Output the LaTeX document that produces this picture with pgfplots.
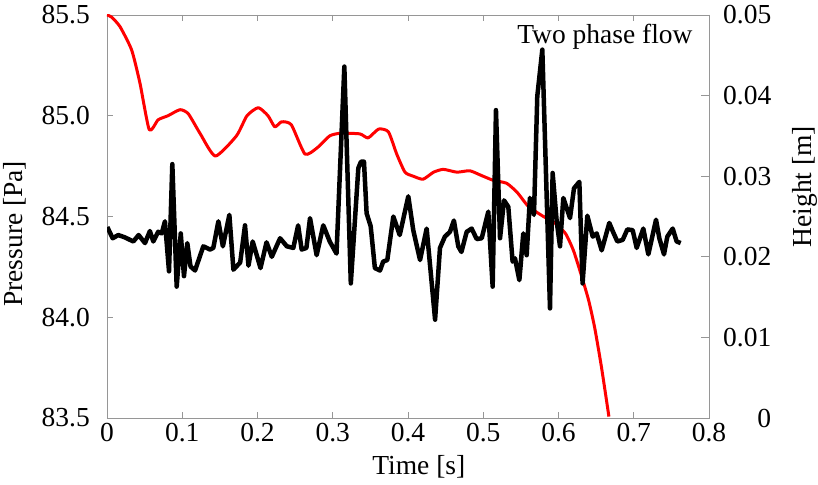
\documentclass[border=0pt]{standalone}
\usepackage{pgfplots}
\pgfplotsset{compat=1.18}
\usepackage{fontspec}
\setmainfont{Liberation Serif}
\newcommand\fs{\fontsize{27.5}{31}\selectfont}
\definecolor{axgray}{RGB}{150,150,150}
\begin{document}
\begin{tikzpicture}
\begin{axis}[
  scale only axis, width=602pt, height=403pt,
  at={(0,0)}, anchor=south west,
  xmin=0, xmax=0.8, ymin=83.5, ymax=85.5,
  xtick={0,0.1,...,0.8}, ytick={83.5,84,84.5,85,85.5},
  xticklabels={0,0.1,0.2,0.3,0.4,0.5,0.6,0.7,0.8},
  yticklabels={83.5,84.0,84.5,85.0,85.5},
  scaled x ticks=false, scaled y ticks=false,
  xtick pos=both, ytick pos=left, tick align=inside,
  major tick length=6pt,
  axis line style={axgray, line width=0.8pt},
  every tick/.style={axgray, line width=0.8pt},
  every tick label/.append style={font=\fs, inner sep=0pt, text=black},
  yticklabel style={anchor=east, xshift=-17pt},
  xticklabel style={anchor=north, yshift=-5pt},
  xlabel={Time [s]},
  ylabel={Pressure [Pa]},
  xlabel style={font=\fs, inner sep=0pt, at={(axis description cs:0.518,0)}, anchor=base, yshift=-56pt},
  ylabel style={font=\fs, inner sep=0pt, at={(axis description cs:-0.1728,0.457)}, anchor=north},
  clip=true,
]
\addplot[red, line width=3pt, line join=round, smooth, tension=0.35] coordinates {
(0,85.5) (0.006,85.49) (0.0173,85.442) (0.0328,85.326) (0.0439,85.16) (0.0562,84.93)
(0.068,84.98) (0.081,85.0) (0.097,85.03) (0.108,85.01) (0.124,84.91) (0.144,84.80)
(0.172,84.90) (0.186,85.0) (0.201,85.04) (0.214,85.0) (0.223,84.945) (0.232,84.97)
(0.245,84.955) (0.263,84.81) (0.279,84.84) (0.296,84.90) (0.310,84.913) (0.336,84.91)
(0.347,84.89) (0.361,84.934) (0.374,84.92) (0.385,84.81) (0.396,84.72) (0.407,84.70)
(0.42,84.685) (0.434,84.72) (0.447,84.734) (0.465,84.72) (0.482,84.727) (0.496,84.706)
(0.513,84.68) (0.531,84.665) (0.545,84.62) (0.56,84.55) (0.58,84.50) (0.593,84.474)
(0.609,84.417) (0.62,84.33) (0.631,84.20) (0.64,84.085) (0.648,83.95) (0.657,83.755)
(0.667,83.507)
};
\node[font=\fs, inner sep=0pt, anchor=base east] at (rel axis cs:0.973,0.9305) {Two phase flow};
\end{axis}
\begin{axis}[
  scale only axis, width=602pt, height=403pt,
  at={(0,0)}, anchor=south west,
  xmin=0, xmax=0.8, ymin=0, ymax=0.05,
  axis x line=none, axis y line*=right,
  ytick={0,0.01,0.02,0.03,0.04,0.05},
  yticklabels={0,0.01,0.02,0.03,0.04,0.05},
  scaled y ticks=false,
  tick align=inside, major tick length=8pt,
  axis line style={axgray, line width=0.8pt},
  every tick/.style={axgray, line width=0.8pt},
  every tick label/.append style={font=\fs, inner sep=0pt, text=black},
  yticklabel style={anchor=west, xshift=14pt, text width=48pt, align=right},
  ylabel={Height [m]},
  ylabel style={font=\fs, inner sep=0pt, at={(axis description cs:1.1385,0.574)}, anchor=north},
  clip=true,
]
\addplot[black, line width=4.5pt, line join=round] coordinates {
(0.0004,0.0237) (0.0075,0.0223) (0.015,0.0227) (0.024,0.0224) (0.035,0.0219) (0.042,0.0227)
(0.0505,0.0217) (0.057,0.0232) (0.0615,0.0219) (0.068,0.0231) (0.0727,0.0229) (0.077,0.0244)
(0.0824,0.0182) (0.0868,0.0315) (0.0926,0.0163) (0.098,0.0229) (0.1023,0.0176) (0.1067,0.0217)
(0.111,0.0188) (0.117,0.0183) (0.128,0.0213) (0.137,0.0209) (0.1413,0.0211) (0.148,0.0244)
(0.154,0.0213) (0.1626,0.0252) (0.168,0.0184) (0.177,0.0193) (0.1834,0.0239) (0.188,0.0189)
(0.1936,0.0219) (0.199,0.0202) (0.204,0.0186) (0.212,0.0218) (0.219,0.0200) (0.23,0.0223)
(0.239,0.0213) (0.2476,0.0211) (0.254,0.0239) (0.2587,0.0209) (0.265,0.0211) (0.2698,0.0248)
(0.2786,0.0202) (0.2874,0.0239) (0.296,0.0219) (0.305,0.0204) (0.3154,0.0436) (0.324,0.0167)
(0.334,0.0310) (0.3375,0.0318) (0.3415,0.0318) (0.345,0.0254) (0.3504,0.0238) (0.356,0.0186)
(0.3628,0.0183) (0.367,0.0194) (0.3725,0.0196) (0.3805,0.0250) (0.389,0.0227) (0.4004,0.0275)
(0.407,0.0233) (0.416,0.0196) (0.4248,0.0235) (0.436,0.0122) (0.4425,0.0211) (0.449,0.0225)
(0.4558,0.0231) (0.461,0.0245) (0.4668,0.0213) (0.471,0.0206) (0.478,0.0231) (0.4846,0.0235)
(0.4913,0.0222) (0.498,0.0223) (0.5067,0.0256) (0.5125,0.0163) (0.5169,0.0382) (0.5223,0.0223)
(0.5276,0.0270) (0.5333,0.0262) (0.539,0.0194) (0.5422,0.0198) (0.548,0.0171) (0.5532,0.0229)
(0.5577,0.0202) (0.562,0.0273) (0.5674,0.0252) (0.5718,0.0399) (0.5785,0.0457) (0.5887,0.0136)
(0.5922,0.0304) (0.5976,0.0244) (0.602,0.0213) (0.6064,0.0273) (0.6153,0.0248) (0.6206,0.0285)
(0.6277,0.0293) (0.632,0.0167) (0.6383,0.0251) (0.6455,0.0225) (0.6507,0.0229) (0.6574,0.0208)
(0.6675,0.0242) (0.6729,0.0230) (0.6782,0.0219) (0.6853,0.0221) (0.6915,0.0234) (0.6986,0.0233)
(0.7039,0.0211) (0.7127,0.0235) (0.7194,0.0203) (0.7296,0.0246) (0.734,0.0223) (0.7402,0.0203)
(0.7446,0.0225) (0.7518,0.0235) (0.757,0.0219) (0.7624,0.0217)
};
\end{axis}
\pgfresetboundingbox
\path (-107pt,-66pt) rectangle (711pt,418pt);
\end{tikzpicture}
\end{document}
